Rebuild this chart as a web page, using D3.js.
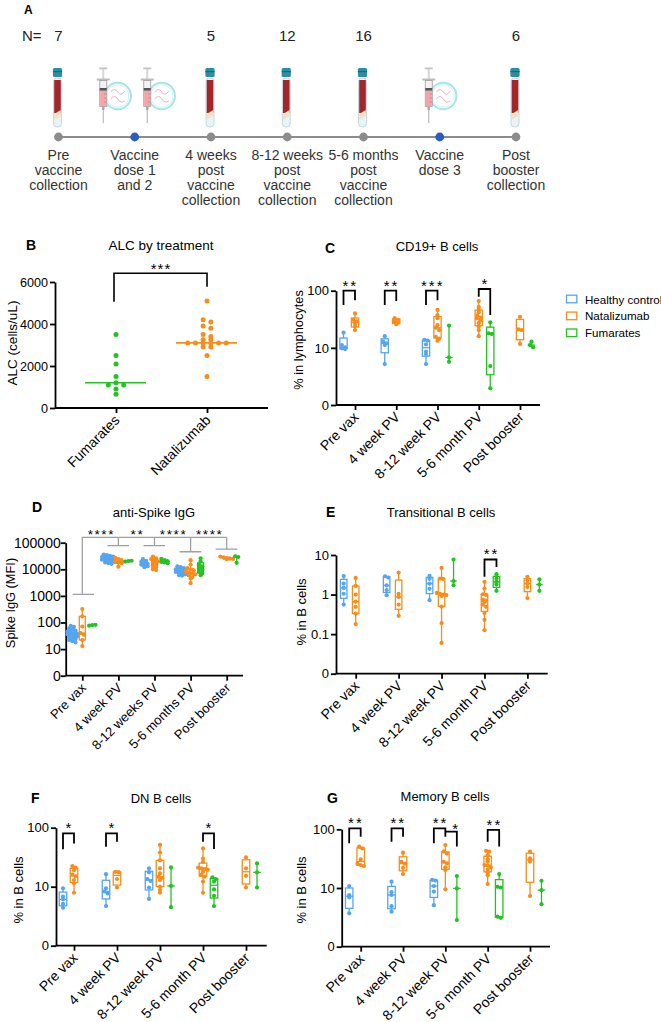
<!DOCTYPE html>
<html>
<head>
<meta charset="utf-8">
<script src="https://cdn.jsdelivr.net/npm/d3@7"></script>
<style>
  body { margin: 0; background: #fff; }
  text { font-family: "Liberation Sans", Arial, sans-serif; }
</style>
</head>
<body>
<svg id="fig" width="661" height="1022"></svg>
<script>
// ---------- data ----------
// Panel A: sampling timeline
const visitLabels = [
  ["Pre", "vaccine", "collection"],
  ["Vaccine", "dose 1", "and 2"],
  ["4 weeks", "post", "vaccine", "collection"],
  ["8-12 weeks", "post", "vaccine", "collection"],
  ["5-6 months", "post", "vaccine", "collection"],
  ["Vaccine", "dose 3"],
  ["Post", "booster", "collection"]
];
const visitN = [7, null, 5, 12, 16, null, 6];
const visitType = ["blood", "vaccine2", "blood", "blood", "blood", "vaccine", "blood"];

// Panel B: ALC by treatment
const alcGroups = ["Fumarates", "Natalizumab"];
const alcFumarates = [3500, 2500, 2100, 1500, 1100, 1200, 1100, 900, 650];
const alcNatalizumab = [5100, 4200, 4100, 3900, 3800, 3500, 3400, 3250, 3250,
  3100, 3100, 3100, 3100, 3100, 3100, 2900, 2900, 2500, 1500];

// shared categories
const timepoints = ["Pre vax", "4 week PV", "8-12 week PV", "5-6 month PV", "Post booster"];
const spikeTimepoints = ["Pre vax", "4 week PV", "8-12 weeks PV", "5-6 months PV", "Post booster"];
const groups = ["Healthy control", "Natalizumab", "Fumarates"];
const colors = ["#55a5f0", "#f98c1b", "#22c422"];

// Panel C: CD19+ B cells (% in lymphocytes)
const cd19Healthy = [[18.5, 11.2, 10.2, 9.8, 9.5], [16, 12.8, 12, 11.2, 5.2], [13.8, 13.4, 11.5, 8.6, 7.8, 5.2], null, null];
const cd19Natalizumab = [[40, 31, 29, 27, 24, 20.5], [33, 31, 29, 27.5, 26],
  [46, 37.5, 33, 25, 22.5, 20.5, 15.5, 14.5, 13.3],
  [66, 52, 47, 42, 37, 34, 33, 30, 27, 23.5, 20.5, 16], [35, 21, 20.5, 11.7]];
const cd19Fumarates = [null, null, [24.5, 6.8, 5.7], [28, 18, 17.5, 4.8, 1.96], [12.8, 11.2, 10.2]];
const cd19Sig = [
  { t: 0, a: 0, b: 1, label: "**", top: 100, lowA: 56, lowB: 68 },
  { t: 1, a: 0, b: 1, label: "**", top: 100, lowA: 56, lowB: 66 },
  { t: 2, a: 0, b: 1, label: "***", top: 100, lowA: 56, lowB: 68 },
  { t: 3, a: 1, b: 2, label: "*", top: 107, lowA: 78, lowB: 37.5 }
];

// Panel D: anti-Spike IgG (MFI)
const spikeHealthy = [
  [75, 68, 60, 55, 50, 45, 42, 40, 38, 36, 34, 32, 30, 28, 26, 24, 22, 20, 18],
  [36000, 34000, 32000, 30000, 29000, 27000, 26000, 25000, 24000, 23000, 22000, 21000, 20000, 19000, 18000, 17000, 16000],
  [24000, 21000, 19000, 17000, 16000, 15000, 14000, 13000, 12000],
  [13000, 12000, 11000, 10000, 9500, 9000, 8500, 8000, 7500, 7000, 6500, 6000, 5800],
  null];
const spikeNatalizumab = [
  [320, 170, 70, 40, 35, 22, 13],
  [27000, 24000, 22000, 19000, 18500, 17000, 12500],
  [30000, 26000, 24000, 22000, 20000, 18000, 16000, 14000, 12000, 10000, 9500],
  [22000, 15000, 11000, 10000, 9000, 8000, 7500, 7000, 6500, 6000, 5000, 4500, 3000],
  [30000, 28000, 26000, 25000, 24500, 24000]];
const spikeFumarates = [
  [76, 80, 82],
  [19500, 20500, 21000],
  [24500, 22000, 20000, 19000, 18000, 17000],
  [26000, 20000, 15000, 13000, 11000, 9500, 8000, 7000, 6000],
  [31000, 29000, 17500]];
const spikeBaseLevel = 1150;
const spikeTopLevel = 158000;
const spikeSig = [
  { to: 1, label: "****", level: 77000 },
  { to: 2, label: "**", level: 77000 },
  { to: 3, label: "****", level: 45700 },
  { to: 4, label: "****", level: 57600 }
];

// Panel E: Transitional B cells (% in B cells)
const transHealthy = [[2.95, 1.9, 1.47, 1.05, 0.56], [2.9, 2.7, 1.7, 1.3, 0.96], [2.96, 2.5, 1.9, 1.4, 0.72], null, null];
const transNatalizumab = [[2.64, 1.65, 1.0, 0.66, 0.49, 0.33, 0.18], [3.6, 1.05, 0.87, 0.56, 0.29],
  [4.7, 2.55, 2.5, 1.1, 1.05, 1.0, 0.97, 0.92, 0.5, 0.19, 0.06],
  [2.1, 1.42, 1.02, 0.98, 0.75, 0.7, 0.65, 0.56, 0.49, 0.34, 0.23, 0.126], [2.8, 2.3, 1.9, 1.55, 0.82]];
const transFumarates = [null, null, [7.7, 2.2, 1.72], [3.27, 2.5, 2.09, 1.8, 1.24], [2.44, 1.79, 1.24]];
const transSig = [{ t: 3, a: 1, b: 2, label: "**", top: 7.7, lowA: 2.8, lowB: 5 }];

// Panel F: DN B cells (% in B cells)
const dnHealthy = [[9.4, 6.8, 6.1, 5.1, 4.4], [16.3, 9.4, 8.3, 7.7, 4.7], [20.5, 17.5, 13.5, 12.5, 9.7, 6.2], null, null];
const dnNatalizumab = [[22.4, 21, 19, 16, 15, 13, 11.4, 7.9], [17.9, 17.6, 13.5, 9.7],
  [51, 38, 28, 20.5, 16.8, 14.8, 14, 13, 10, 8.8, 7.9],
  [44.6, 30, 26.5, 21, 20.5, 19.8, 19.3, 18, 16, 14.8, 12.2, 7.9], [31.3, 20.5, 15.3, 9.7]];
const dnFumarates = [null, null, [21.2, 10.3, 4.5], [14.4, 13.5, 12.2, 9, 7, 4.7], [24.8, 17.5, 9.7]];
const dnSig = [
  { t: 0, a: 0, b: 1, label: "*", top: 80, lowA: 43, lowB: 54 },
  { t: 1, a: 0, b: 1, label: "*", top: 80, lowA: 47.6, lowB: 58 },
  { t: 3, a: 1, b: 2, label: "*", top: 80, lowA: 58, lowB: 43.5 }
];

// Panel G: Memory B cells (% in B cells)
const memHealthy = [[10.8, 7.6, 6.9, 3.7], [12.8, 8.5, 7.6, 4.9, 3.95], [13.7, 13.4, 10.8, 8.7, 5.1], null, null];
const memNatalizumab = [[50.6, 47.5, 30.7, 26, 24.6, 23.7], [40, 28, 26, 22, 17.3],
  [54, 42, 38.6, 28, 26.3, 22.5, 20.2, 9.5],
  [43, 41.5, 36, 31, 28, 24.6, 24, 22.5, 20.5, 18.3, 16.5, 11.7], [41.5, 32, 28.2, 7.3]];
const memFumarates = [null, null, [16, 9.85, 2.85], [17.3, 10.5, 10.2, 3.25, 3.1], [13.3, 9.2, 5.3]];
const memSig = [
  { t: 0, a: 0, b: 1, label: "**", top: 104, lowA: 57.7, lowB: 75 },
  { t: 1, a: 0, b: 1, label: "**", top: 104, lowA: 61.6, lowB: 75 },
  { t: 2, a: 0, b: 1, label: "**", top: 104, lowA: 57.7, lowB: 75 },
  { t: 2, a: 1, b: 2, label: "*", top: 91.5, lowA: 91.5, lowB: 50.7, dx: 4, dy: 2 },
  { t: 3, a: 1, b: 2, label: "**", top: 97.5, lowA: 61.6, lowB: 50.7 }
];

// ---------- helpers ----------
const svg = d3.select("#fig");

// GraphPad style percentile, position p*(n+1)
function quant(sorted, p) {
  const n = sorted.length, pos = p * (n + 1);
  if (pos <= 1) return sorted[0];
  if (pos >= n) return sorted[n - 1];
  const lo = Math.floor(pos);
  return sorted[lo - 1] + (pos - lo) * (sorted[lo] - sorted[lo - 1]);
}

// spread points that share a row horizontally
function swarm(vals, yScale, spacing, thr) {
  const pts = vals.map((v, i) => ({ v, i, y: yScale(v) })).sort((a, b) => a.y - b.y);
  const rows = [];
  let cur = null;
  pts.forEach(p => {
    if (!cur || p.y - cur.y0 > thr) { cur = { y0: p.y, items: [] }; rows.push(cur); }
    cur.items.push(p);
  });
  rows.forEach(r => {
    r.items.sort((a, b) => a.i - b.i);
    const k = r.items.length;
    r.items.forEach((p, j) => p.dx = (j - (k - 1) / 2) * spacing);
  });
  return pts;
}

function panelLetter(letter, x, y, size) {
  svg.append("text").attr("x", x).attr("y", y).attr("font-size", size || 14)
    .attr("font-weight", "bold").attr("font-family", "'Open Sans', sans-serif").text(letter);
}

function yTitle(txt, x, y, size) {
  svg.append("text").attr("transform", `translate(${x},${y}) rotate(-90)`)
    .attr("text-anchor", "middle").attr("dominant-baseline", "central")
    .attr("font-size", size).text(txt);
}

function styleAxis(sel, fontSize) {
  sel.selectAll("path, line").attr("stroke", "#000").attr("stroke-width", 1.8);
  sel.selectAll("text").attr("font-size", fontSize).attr("fill", "#000")
    .attr("font-family", "'Liberation Sans', Arial, sans-serif");
}

function rotateLabels(sel) {
  sel.selectAll(".tick text")
    .attr("x", 0).attr("y", 0).attr("dy", 0)
    .attr("text-anchor", "end")
    .attr("transform", "translate(4,13) rotate(-45)");
}

// ---------- Panel A ----------
function drawTube(g, x) {
  g.append("rect").attr("x", x - 4).attr("y", 78).attr("width", 8).attr("height", 49).attr("rx", 3.6)
    .attr("fill", "#e8f4f7").attr("stroke", "#b8d2da").attr("stroke-width", 0.8);
  g.append("rect").attr("x", x - 3.3).attr("y", 80).attr("width", 6.6).attr("height", 33).attr("fill", "#a4262b");
  g.append("path").attr("d", `M${x - 3.3},114 L${x + 3.3},110 L${x + 3.3},116 L${x - 3.3},120 Z`).attr("fill", "#f2e3c2");
  g.append("rect").attr("x", x - 4.6).attr("y", 68).attr("width", 9.2).attr("height", 9).attr("rx", 1.5).attr("fill", "#2b8fa4");
  g.append("rect").attr("x", x - 4.6).attr("y", 71).attr("width", 9.2).attr("height", 1.2).attr("fill", "#1d6778");
}

function drawVirus(g, x) {
  g.append("circle").attr("cx", x).attr("cy", 96).attr("r", 13.2)
    .attr("fill", "#fbfefe").attr("stroke", "#a7e5e7").attr("stroke-width", 2);
  g.append("circle").attr("cx", x).attr("cy", 96).attr("r", 11.2)
    .attr("fill", "none").attr("stroke", "#d4f3f3").attr("stroke-width", 1);
  g.append("path").attr("d", `M${x - 7},92 q4,-5 7,0 t7,-1`).attr("fill", "none").attr("stroke", "#f1a7b3").attr("stroke-width", 0.9);
  g.append("path").attr("d", `M${x - 7},99 q4,-5 7,0 t7,2`).attr("fill", "none").attr("stroke", "#f1a7b3").attr("stroke-width", 0.9);
}

function drawSyringe(g, x) {
  g.append("rect").attr("x", x - 4).attr("y", 67.5).attr("width", 8).attr("height", 1.8).attr("fill", "#c4c4c4");
  g.append("rect").attr("x", x - 1).attr("y", 69).attr("width", 2).attr("height", 11).attr("fill", "#d6d6d6");
  g.append("rect").attr("x", x - 6.5).attr("y", 78.5).attr("width", 13).attr("height", 2).attr("fill", "#bcbcbc");
  g.append("rect").attr("x", x - 3.5).attr("y", 80.5).attr("width", 7).attr("height", 26)
    .attr("fill", "#f2f2f2").attr("stroke", "#9c9c9c").attr("stroke-width", 0.8);
  g.append("rect").attr("x", x - 3.1).attr("y", 90.5).attr("width", 6.2).attr("height", 15.7).attr("fill", "#f3a5a8");
  g.append("rect").attr("x", x - 3.5).attr("y", 88).attr("width", 7).attr("height", 2.6).attr("fill", "#555");
  [94, 98, 102].forEach(yy => g.append("line").attr("x1", x + 1).attr("x2", x + 3.4).attr("y1", yy).attr("y2", yy)
    .attr("stroke", "#c66").attr("stroke-width", 0.6));
  g.append("rect").attr("x", x - 1.2).attr("y", 106.5).attr("width", 2.4).attr("height", 3.5).attr("fill", "#a8a8a8");
  g.append("line").attr("x1", x).attr("x2", x).attr("y1", 110).attr("y2", 123).attr("stroke", "#999").attr("stroke-width", 0.8);
}

(function panelA() {
  const g = svg.append("g");
  const x = d3.scalePoint().domain(d3.range(visitLabels.length)).range([58.5, 516]);
  panelLetter("A", 24, 13.5, 12);
  g.append("text").attr("x", 22).attr("y", 40.5).attr("font-size", 15).attr("font-family", "Roboto, sans-serif")
    .attr("fill", "#222").text("N=");
  visitN.forEach((n, i) => {
    if (n === null) return;
    g.append("text").attr("x", x(i)).attr("y", 40.5).attr("text-anchor", "middle")
      .attr("font-size", 15).attr("font-family", "Roboto, sans-serif").attr("fill", "#222").text(n);
  });
  visitType.forEach((t, i) => {
    if (t === "blood") drawTube(g, x(i) - 1);
    else {
      const shots = t === "vaccine2" ? [-31.5, 12.5] : [-11];
      shots.forEach(dx => { drawVirus(g, x(i) + dx + 14.5); drawSyringe(g, x(i) + dx); });
    }
  });
  g.append("line").attr("x1", x(0)).attr("x2", x(visitLabels.length - 1)).attr("y1", 137).attr("y2", 137)
    .attr("stroke", "#8c8c8c").attr("stroke-width", 2.2);
  g.selectAll("circle.visit").data(visitType).join("circle").attr("class", "visit")
    .attr("cx", (d, i) => x(i)).attr("cy", 137).attr("r", 4.4)
    .attr("fill", d => d === "blood" ? "#8c8c8c" : "#2a5dc4");
  visitLabels.forEach((lines, i) => {
    const t = g.append("text").attr("text-anchor", "middle").attr("font-size", 14)
      .attr("font-family", "Roboto, sans-serif").attr("fill", "#333");
    lines.forEach((l, j) => t.append("tspan").attr("x", x(i)).attr("y", 159.5 + j * 15.2).text(l));
  });
})();

// ---------- Panel B ----------
(function panelB() {
  const g = svg.append("g");
  const x = d3.scalePoint().domain(alcGroups).range([116, 207]);
  const y = d3.scaleLinear().domain([0, 6000]).range([408, 282]);
  panelLetter("B", 26, 250);
  g.append("text").attr("x", 161).attr("y", 250).attr("text-anchor", "middle").attr("font-size", 13.5)
    .text("ALC  by treatment");
  yTitle("ALC (cells/uL)", 12, 343, 13.5);

  const ya = g.append("g").attr("transform", "translate(55,0)")
    .call(d3.axisLeft(y).tickValues([0, 2000, 4000, 6000]).tickFormat(d3.format("d"))
      .tickSize(5).tickSizeOuter(0).tickPadding(2));
  styleAxis(ya, 12.6);
  const xa = g.append("g").attr("transform", "translate(0,408)")
    .call(d3.axisBottom(x).tickSize(5).tickSizeOuter(0));
  xa.select(".domain").remove();
  styleAxis(xa, 14);
  rotateLabels(xa);
  g.append("line").attr("x1", 55).attr("x2", 268).attr("y1", 408).attr("y2", 408)
    .attr("stroke", "#000").attr("stroke-width", 1.8);

  [[alcFumarates, colors[2]], [alcNatalizumab, colors[1]]].forEach(([vals, col], k) => {
    const cx = x(alcGroups[k]);
    const med = d3.median(vals);
    g.append("line").attr("x1", cx - 31).attr("x2", cx + 30).attr("y1", y(med)).attr("y2", y(med))
      .attr("stroke", col).attr("stroke-width", 1.6);
    g.selectAll(null).data(swarm(vals, y, 7.7, 2.8)).join("circle")
      .attr("cx", d => cx + d.dx).attr("cy", d => d.y).attr("r", 2.5).attr("fill", col);
  });

  // significance
  g.append("path")
    .attr("d", `M${x(alcGroups[0]) - 2},${y(5060)}V${y(6414)}H${x(alcGroups[1])}V${y(5776)}`)
    .attr("fill", "none").attr("stroke", "#000").attr("stroke-width", 1.6);
  g.append("text").attr("x", 161).attr("y", y(6414) + 0.5).attr("text-anchor", "middle")
    .attr("font-size", 15).attr("letter-spacing", 1).text("***");
})();

// ---------- box panels ----------
function boxPanel(cfg) {
  const g = svg.append("g");
  const x = d3.scalePoint().domain(cfg.cats).range(cfg.catRange);
  const off = d3.scalePoint().domain(groups).range([-cfg.offset, cfg.offset]);
  const y = d3.scaleLog().domain(cfg.yDomain).range([cfg.yBottom, cfg.yTop]);

  panelLetter(cfg.letter, cfg.letterX, cfg.letterY);
  g.append("text").attr("x", cfg.titleX).attr("y", cfg.titleY).attr("text-anchor", "middle")
    .attr("font-size", 13).text(cfg.title);
  yTitle(cfg.yTitle, cfg.yTitleX, cfg.yTitleY, cfg.yTitleSize || 13);

  const ya = g.append("g").attr("transform", `translate(${cfg.axisX},0)`)
    .call(d3.axisLeft(y).tickValues(cfg.yTicks)
      .tickFormat(d => d === cfg.yDomain[0] ? "0" : String(d))
      .tickSize(5).tickSizeOuter(0).tickPadding(cfg.tickPad === undefined ? 2 : cfg.tickPad));
  styleAxis(ya, cfg.tickFont || 13);

  const xa = g.append("g").attr("transform", `translate(0,${cfg.yBottom})`)
    .call(d3.axisBottom(x).tickSize(5).tickSizeOuter(0));
  xa.select(".domain").remove();
  styleAxis(xa, cfg.labelFont || 14);
  rotateLabels(xa);
  g.append("line").attr("x1", cfg.axisX).attr("x2", cfg.axisRight)
    .attr("y1", cfg.yBottom).attr("y2", cfg.yBottom).attr("stroke", "#000").attr("stroke-width", 1.8);

  const bw = cfg.bw;
  cfg.data.forEach((series, gi) => {
    const col = colors[gi];
    series.forEach((vals, ti) => {
      if (!vals) return;
      const cx = x(cfg.cats[ti]) + off(groups[gi]);
      const s = vals.slice().sort(d3.ascending);
      const q1 = quant(s, 0.25), med = quant(s, 0.5), q3 = quant(s, 0.75);
      const bg = g.append("g").attr("stroke", col).attr("stroke-width", 1.3).attr("fill", "none");
      bg.append("line").attr("x1", cx).attr("x2", cx).attr("y1", y(s[0])).attr("y2", y(s[s.length - 1]));
      if (s.length > 3) {
        bg.append("rect").attr("x", cx - bw / 2).attr("y", y(q3)).attr("width", bw)
          .attr("height", y(q1) - y(q3)).attr("fill", "#fff");
      }
      bg.append("line").attr("x1", cx - bw / 2).attr("x2", cx + bw / 2).attr("y1", y(med)).attr("y2", y(med));
      g.selectAll(null).data(swarm(vals, y, 3.2, 2.4)).join("circle")
        .attr("cx", d => cx + d.dx).attr("cy", d => d.y).attr("r", 2.1).attr("fill", col);
    });
  });

  (cfg.sig || []).forEach(sg => {
    const xa1 = x(cfg.cats[sg.t]) + off(groups[sg.a]);
    const xb1 = x(cfg.cats[sg.t]) + off(groups[sg.b]);
    g.append("path").attr("d", `M${xa1},${y(sg.lowA)}V${y(sg.top)}H${xb1}V${y(sg.lowB)}`)
      .attr("fill", "none").attr("stroke", "#000").attr("stroke-width", 1.8);
    g.append("text").attr("x", (xa1 + xb1) / 2 + 1 + (sg.dx || 0)).attr("y", y(sg.top) + (sg.dy || 0))
      .attr("text-anchor", "middle").attr("font-size", 15).attr("letter-spacing", 2).text(sg.label);
  });
  return { g, x, y, off };
}

// Panel C
boxPanel({
  cats: timepoints, catRange: [355, 520], offset: 11.5, bw: 7.3,
  axisX: 336, axisRight: 540, yTop: 290.7, yBottom: 405, yDomain: [1, 100], yTicks: [1, 10, 100],
  data: [cd19Healthy, cd19Natalizumab, cd19Fumarates], sig: cd19Sig,
  title: "CD19+ B cells", titleX: 437, titleY: 251, letter: "C", letterX: 325, letterY: 253,
  yTitle: "% in lymphocytes", yTitleX: 298, yTitleY: 340, yTitleSize: 12.8
});

// legend
(function legend() {
  const g = svg.append("g");
  groups.forEach((name, i) => {
    const cy = 299 + i * 16.9;
    g.append("rect").attr("x", 566.5).attr("y", cy - 3.8).attr("width", 10.3).attr("height", 7.6)
      .attr("fill", "#fff").attr("stroke", colors[i]).attr("stroke-width", 1.3);
    g.append("text").attr("x", 585).attr("y", cy).attr("dominant-baseline", "central")
      .attr("font-size", 11.6).text(name);
  });
})();

// Panel D
(function panelD() {
  const p = boxPanel({
    cats: spikeTimepoints, catRange: [82.3, 226.7], offset: 10, bw: 6,
    axisX: 65.7, axisRight: 243, yTop: 542.7, yBottom: 675.7, yDomain: [1, 100000],
    yTicks: [1, 10, 100, 1000, 10000, 100000], tickFont: 14, tickPad: 0, labelFont: 13,
    data: [spikeHealthy, spikeNatalizumab, spikeFumarates],
    title: "anti-Spike IgG", titleX: 154, titleY: 517, letter: "D", letterX: 32, letterY: 512,
    yTitle: "Spike IgG (MFI)", yTitleX: 10.5, yTitleY: 603, yTitleSize: 12.8
  });
  const { g, x, y } = p;
  const gray = "#a0a0a0";
  const cx = i => x(spikeTimepoints[i]);
  const line = d => g.append("path").attr("d", d).attr("fill", "none").attr("stroke", gray).attr("stroke-width", 1.3);
  line(`M${cx(0) - 9.6},${y(spikeBaseLevel)}H${cx(0) + 11.7}M${cx(0)},${y(spikeBaseLevel)}V${y(spikeTopLevel)}H${cx(4)}`);
  let prev = cx(0);
  spikeSig.forEach(sg => {
    const c = cx(sg.to);
    line(`M${c - 11},${y(sg.level)}H${c + 10.6}M${c},${y(sg.level)}V${y(spikeTopLevel)}`);
    g.append("text").attr("x", (prev + c) / 2 + 1).attr("y", y(spikeTopLevel) + 1.7).attr("text-anchor", "middle")
      .attr("font-size", 13.5).attr("letter-spacing", 1.6).text(sg.label);
    prev = c;
  });
})();

// Panel E
boxPanel({
  cats: timepoints, catRange: [355.7, 527.4], offset: 12, bw: 6.5,
  axisX: 336, axisRight: 547.7, yTop: 555, yBottom: 673.7, yDomain: [0.01, 10], yTicks: [0.01, 0.1, 1, 10],
  data: [transHealthy, transNatalizumab, transFumarates], sig: transSig,
  title: "Transitional B cells", titleX: 441, titleY: 517, letter: "E", letterX: 326, letterY: 517,
  yTitle: "% in B cells", yTitleX: 301.7, yTitleY: 612
});

// Panel F
boxPanel({
  cats: timepoints, catRange: [74, 246], offset: 11, bw: 7.5,
  axisX: 56, axisRight: 266.7, yTop: 827.7, yBottom: 945.7, yDomain: [1, 100], yTicks: [1, 10, 100],
  data: [dnHealthy, dnNatalizumab, dnFumarates], sig: dnSig,
  title: "DN B cells", titleX: 161, titleY: 802.7, letter: "F", letterX: 31, letterY: 803,
  yTitle: "% in B cells", yTitleX: 18.3, yTitleY: 890
});

// Panel G
boxPanel({
  cats: timepoints, catRange: [360.7, 530], offset: 11.5, bw: 7.5,
  axisX: 341.7, axisRight: 550, yTop: 829.3, yBottom: 946.7, yDomain: [1, 100], yTicks: [1, 10, 100],
  data: [memHealthy, memNatalizumab, memFumarates], sig: memSig,
  title: "Memory B cells", titleX: 445, titleY: 800.7, letter: "G", letterX: 327, letterY: 803,
  yTitle: "% in B cells", yTitleX: 301.7, yTitleY: 890
});
</script>
</body>
</html>
